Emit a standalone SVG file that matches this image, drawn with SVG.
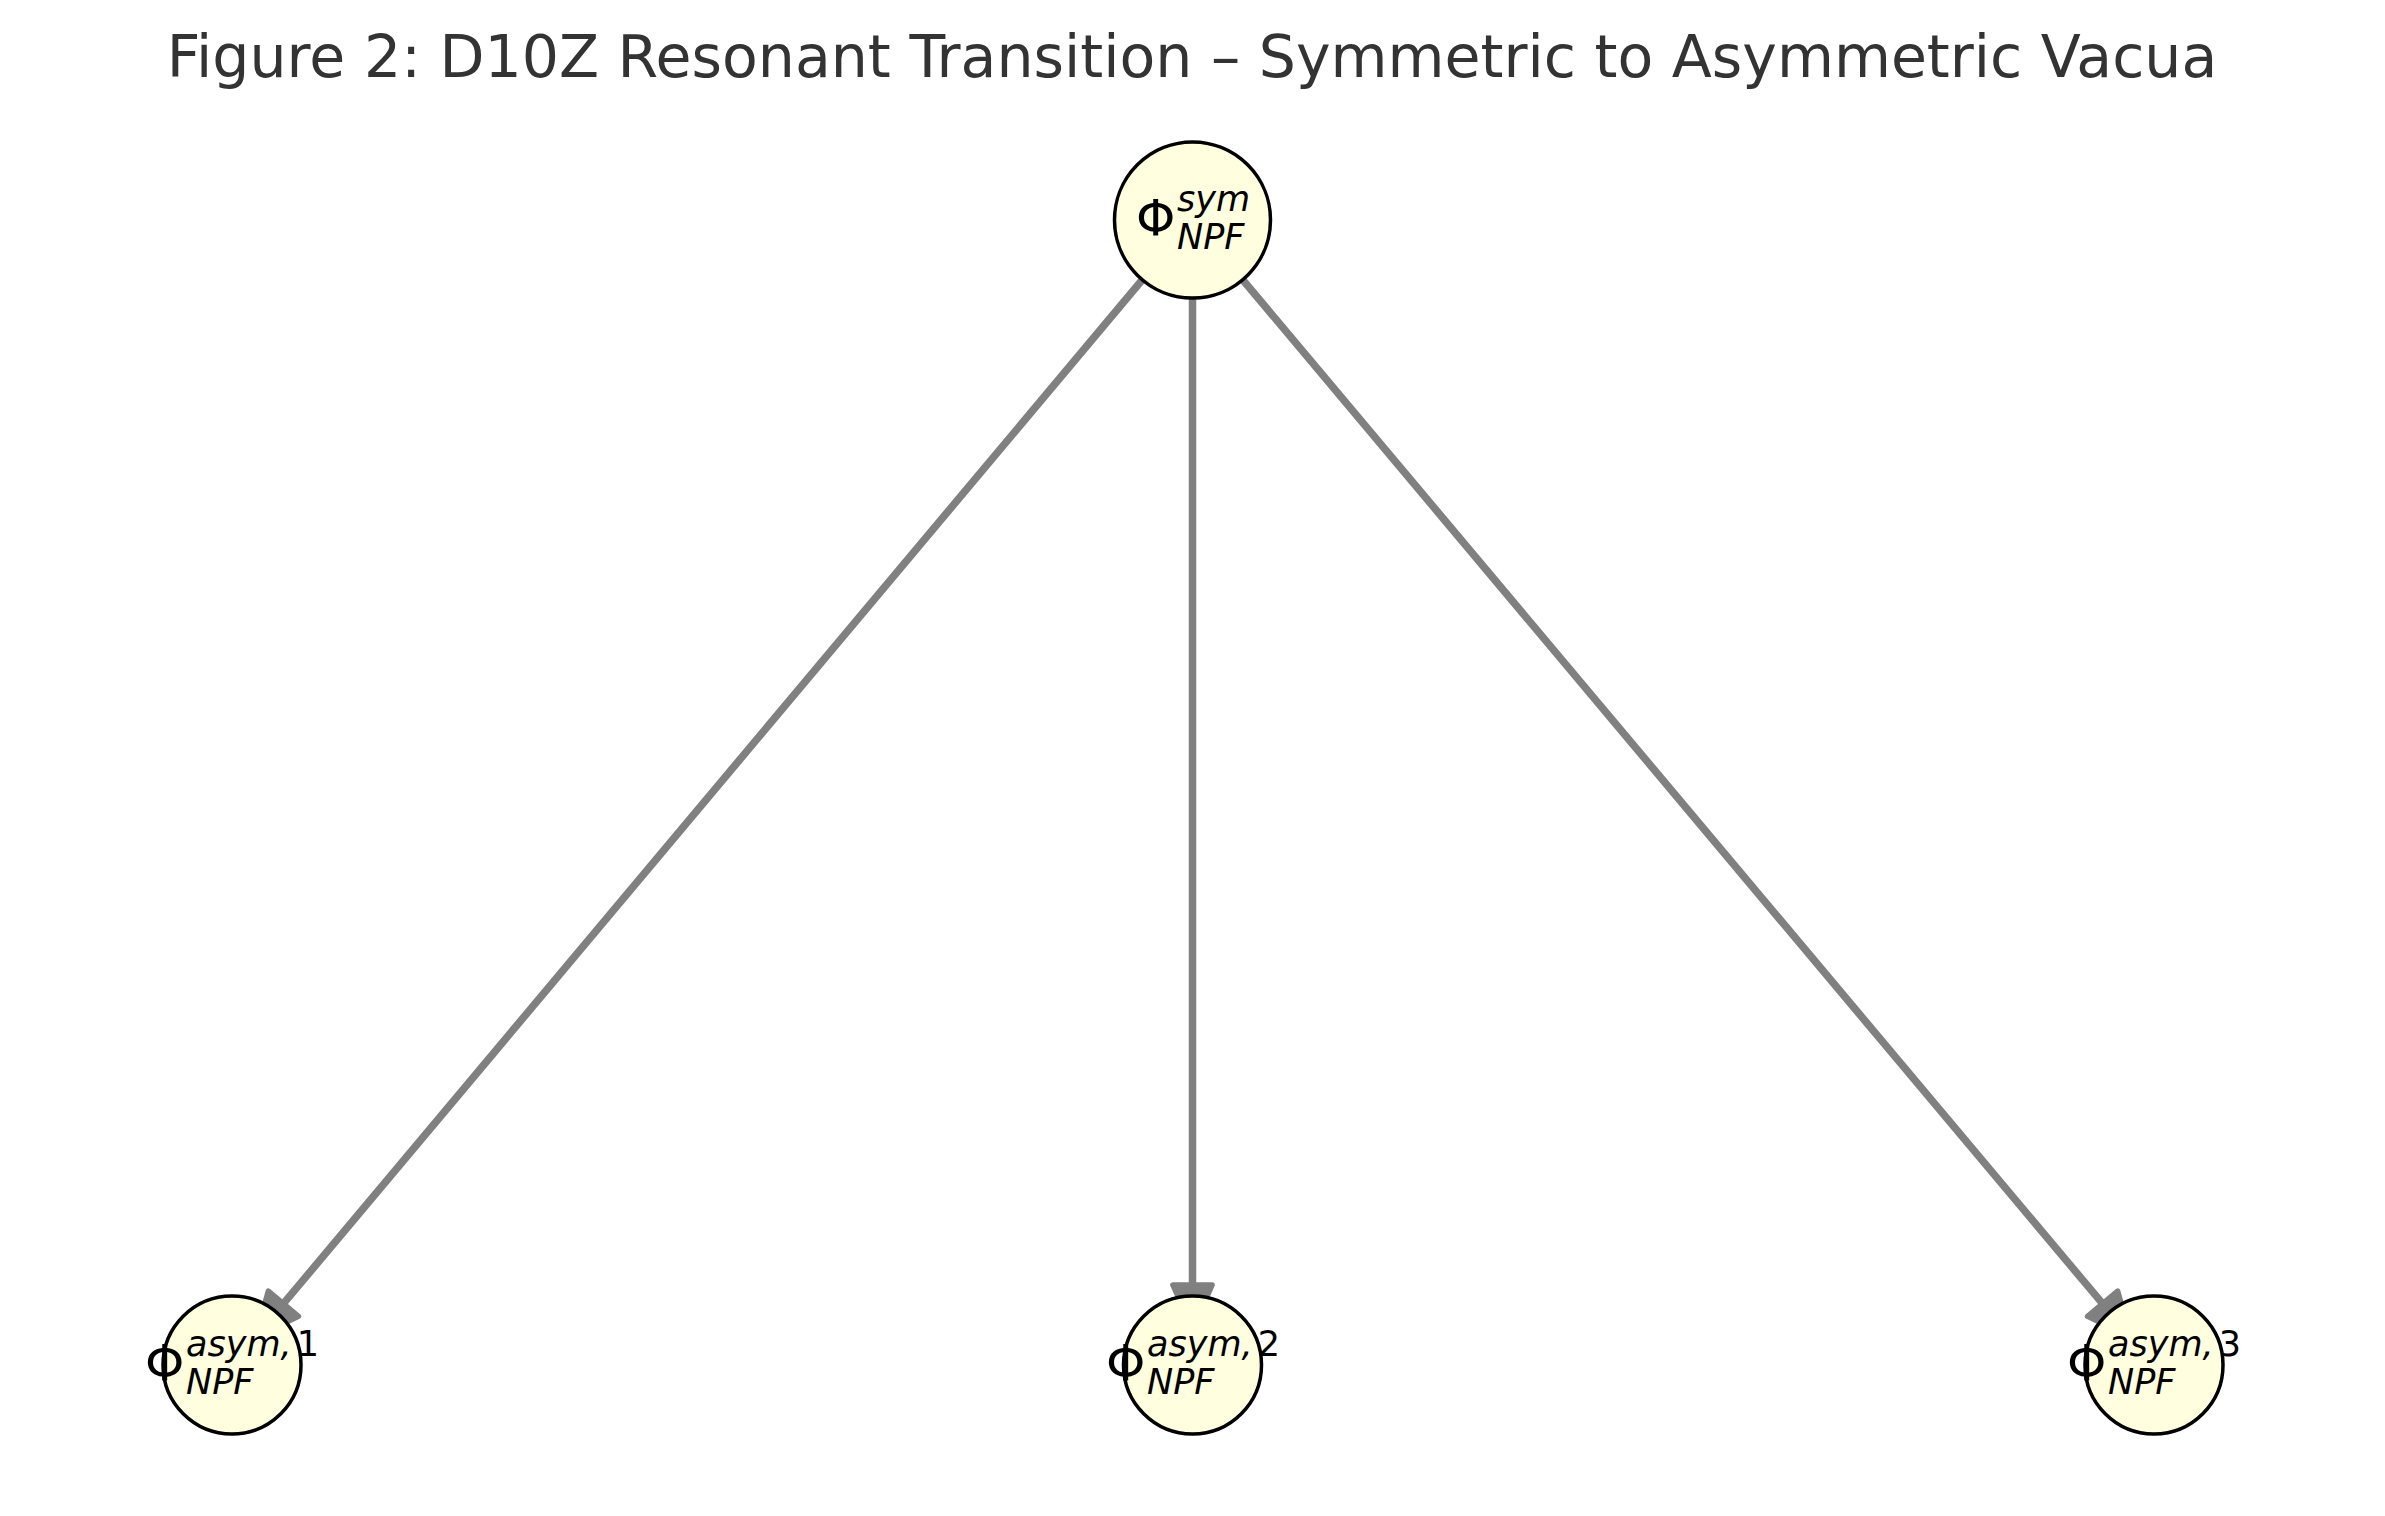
<svg xmlns="http://www.w3.org/2000/svg" width="2385" height="1516" viewBox="0 0 2385 1516">
<style>
.title{font-family:"DejaVu Sans",sans-serif;font-size:58.5px;fill:#333333;text-anchor:middle}
.edge{stroke:#808080;stroke-width:7.5;fill:none}
.node{fill:#FFFFE0;stroke:#000000;stroke-width:3.5}
.phi{font-family:"DejaVu Sans",sans-serif;font-size:50px;fill:#000}
.scr{font-family:"DejaVu Sans",sans-serif;font-style:italic;font-size:35px;fill:#000}
.dig{font-style:normal}
</style>
<defs>
<marker id="arr" markerUnits="userSpaceOnUse" orient="auto" refX="0" refY="0" markerWidth="60" markerHeight="60" viewBox="-5 -25 55 50" overflow="visible">
<path d="M0,-18 L40,0 L0,18 Z" fill="#808080" stroke="#808080" stroke-width="5" stroke-linejoin="round"/>
</marker>
</defs>
<rect width="2385" height="1516" fill="#ffffff"/>
<text class="title" x="1192" y="77">Figure 2: D10Z Resonant Transition – Symmetric to Asymmetric Vacua</text>
<g id="connectors">
<line class="edge" x1="1141.7" y1="280.5" x2="283.4" y2="1303.7" marker-end="url(#arr)"/>
<line class="edge" x1="1192.5" y1="299" x2="1192.5" y2="1285" marker-end="url(#arr)"/>
<line class="edge" x1="1243.3" y1="280.5" x2="2102.6" y2="1303.7" marker-end="url(#arr)"/>
</g>
<g id="node-sym">
<circle class="node" cx="1192.5" cy="220" r="78"/>
<text class="phi" x="1136" y="235">Φ</text>
<text class="scr" x="1177" y="211">sym</text>
<text class="scr" x="1177" y="249">NPF</text>
</g>
<g id="node-asym1">
<circle class="node" cx="232" cy="1365" r="69"/>
<text class="phi" x="145" y="1380">Φ</text>
<text class="scr" x="186" y="1356">asym,<tspan class="dig" dx="5">1</tspan></text>
<text class="scr" x="186" y="1394">NPF</text>
</g>
<g id="node-asym2">
<circle class="node" cx="1192.5" cy="1365" r="69"/>
<text class="phi" x="1106" y="1380">Φ</text>
<text class="scr" x="1147" y="1356">asym,<tspan class="dig" dx="5">2</tspan></text>
<text class="scr" x="1147" y="1394">NPF</text>
</g>
<g id="node-asym3">
<circle class="node" cx="2154" cy="1365" r="69"/>
<text class="phi" x="2067" y="1380">Φ</text>
<text class="scr" x="2108" y="1356">asym,<tspan class="dig" dx="5">3</tspan></text>
<text class="scr" x="2108" y="1394">NPF</text>
</g>
</svg>
